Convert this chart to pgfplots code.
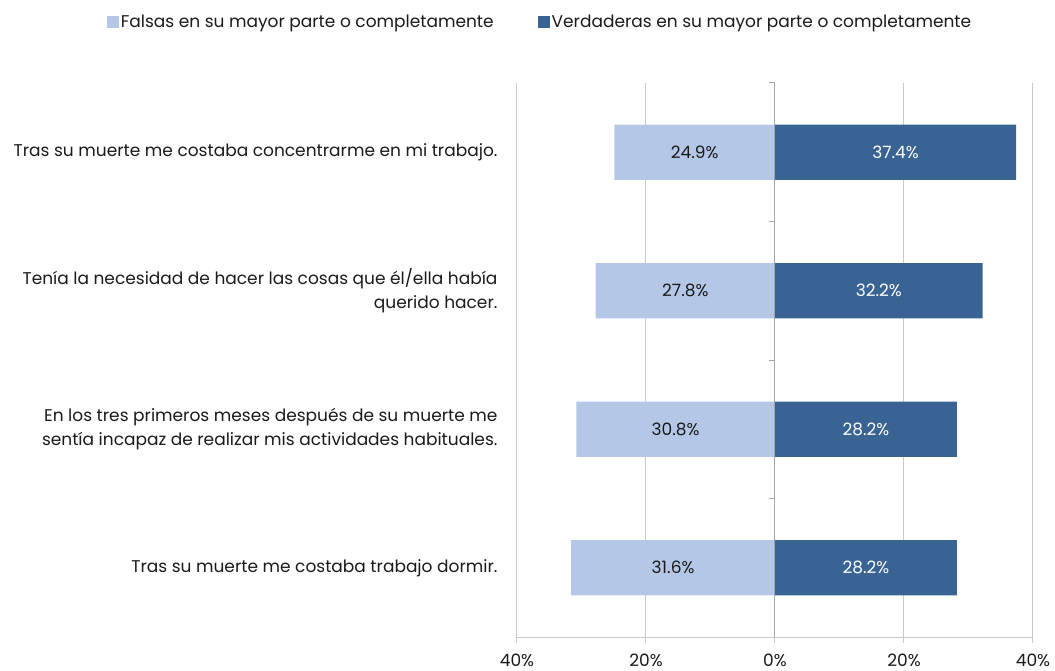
\documentclass[border=0pt]{standalone}
\usepackage{fontspec}
\setmainfont{Poppins}
\usepackage{pgfplots}
\pgfplotsset{compat=1.18}
\definecolor{lightbar}{RGB}{180,199,231}
\definecolor{darkbar}{RGB}{56,99,147}
\definecolor{gridc}{RGB}{200,200,200}
\definecolor{zeroc}{RGB}{165,165,165}
\definecolor{txt}{RGB}{26,26,26}
\pgfplotsset{sqlegend/.style={legend image code/.code={\draw[##1,draw=none] (0pt,-6pt) rectangle (12pt,6pt);}}}
\begin{document}
\begin{tikzpicture}[x=1pt,y=1pt]
\path[use as bounding box] (0,0) rectangle (1055,671);
\begin{axis}[
  at={(517pt,34pt)}, anchor=south west,
  scale only axis, width=516pt, height=554pt,
  xmin=-40, xmax=40, ymin=-0.5, ymax=3.5, y dir=reverse,
  axis x line*=bottom, axis y line*=left,
  axis line style={-},
  x axis line style={gridc, line width=1pt},
  y axis line style={draw=none},
  xtick={-40,-20,0,20,40},
  xticklabels={40\%,20\%,0\%,20\%,40\%},
  xmajorgrids, grid style={gridc, line width=1pt},
  x tick style={gridc, line width=1pt},
  major tick length=6pt, tick align=outside,
  ytick={0,1,2,3},
  y tick style={draw=none},
  yticklabels={
    {Tras su muerte me costaba concentrarme en mi trabajo.},
    {Tenía la necesidad de hacer las cosas que él/ella había\\querido hacer.},
    {En los tres primeros meses después de su muerte me\\sentía incapaz de realizar mis actividades habituales.},
    {Tras su muerte me costaba trabajo dormir.}},
  yticklabel style={font=\fontsize{17}{24}\selectfont, align=right, text=txt, xshift=-10pt},
  xticklabel style={font=\fontsize{17}{20}\selectfont, text=txt, yshift=-7pt},
  legend style={at={(0.0446,1.11)}, anchor=center, draw=none, fill=none,
    font=\fontsize{17}{20}\selectfont, text=txt,
    /tikz/every even column/.append style={column sep=42pt}},
  legend columns=2,
]
\addplot[xbar, sqlegend, bar width=0.4, bar shift=0pt, fill=lightbar, draw=none]
  coordinates {(-24.9,0) (-27.8,1) (-30.8,2) (-31.6,3)};
\addlegendentry{Falsas en su mayor parte o completamente}
\addplot[xbar, sqlegend, bar width=0.4, bar shift=0pt, fill=darkbar, draw=none]
  coordinates {(37.4,0) (32.2,1) (28.2,2) (28.2,3)};
\addlegendentry{Verdaderas en su mayor parte o completamente}
\addplot[draw=none, forget plot, point meta=explicit,
  nodes near coords={\pgfmathprintnumber[fixed,fixed zerofill,precision=1,assume math mode=true]{\pgfplotspointmeta}\%},
  nodes near coords align=center,
  every node near coord/.append style={font=\fontsize{17}{20}\selectfont, text=txt}]
  coordinates {(-12.45,0) [24.9] (-13.9,1) [27.8] (-15.4,2) [30.8] (-15.8,3) [31.6]};
\addplot[draw=none, forget plot, point meta=explicit,
  nodes near coords={\pgfmathprintnumber[fixed,fixed zerofill,precision=1,assume math mode=true]{\pgfplotspointmeta}\%},
  nodes near coords align=center,
  every node near coord/.append style={font=\fontsize{17}{20}\selectfont, text=white}]
  coordinates {(18.7,0) [37.4] (16.1,1) [32.2] (14.1,2) [28.2] (14.1,3) [28.2]};
\draw[zeroc, line width=1pt] (axis cs:0,-0.5) -- (axis cs:0,3.5);
\draw[zeroc, line width=1pt] (axis cs:0,-0.5) -- ++(-6pt,0pt);
\draw[zeroc, line width=1pt] (axis cs:0,0.5) -- ++(-6pt,0pt);
\draw[zeroc, line width=1pt] (axis cs:0,1.5) -- ++(-6pt,0pt);
\draw[zeroc, line width=1pt] (axis cs:0,2.5) -- ++(-6pt,0pt);
\end{axis}
\end{tikzpicture}
\end{document}
